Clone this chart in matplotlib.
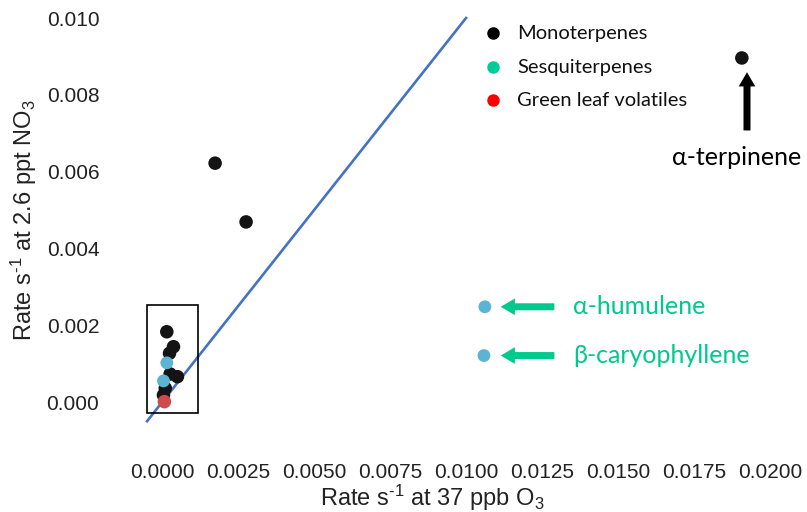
import matplotlib
matplotlib.use("Agg")
import matplotlib.pyplot as plt
from matplotlib.patches import Rectangle
import numpy as np

plt.rcParams["font.family"] = ["Liberation Sans", "DejaVu Sans"]
plt.rcParams["mathtext.default"] = "regular"

# Reaction rates (s^-1): ozone (x) versus nitrate radical (y)
mono_o3 = [0.01908, 0.00174, 0.00276, 0.00015, 0.00037, 0.00024, 0.00026, 0.00050, 0.00010, 0.00004]
mono_no3 = [0.00896, 0.00622, 0.00469, 0.00183, 0.00144, 0.00127, 0.00073, 0.00066, 0.00036, 0.00018]
sesq_o3 = [0.01062, 0.01059, 0.00015, 0.00004]
sesq_no3 = [0.00248, 0.00121, 0.00102, 0.00055]
glv_o3 = [0.00007]
glv_no3 = [0.00001]

one_to_one = [-0.0005, 0.0100]

x_ticks = [0.0, 0.0025, 0.0050, 0.0075, 0.0100, 0.0125, 0.0150, 0.0175, 0.0200]
y_ticks = [0.000, 0.002, 0.004, 0.006, 0.008, 0.010]

legend_labels = ["Monoterpenes", "Sesquiterpenes", "Green leaf volatiles"]
legend_colors = ["#000000", "#00CC99", "#FF0000"]

fig = plt.figure(figsize=(8.07, 5.12), dpi=100)
ax = fig.add_axes([0.1747, 0.1398, 0.798, 0.8475])
ax.set_xlim(-0.0007, 0.0205)
ax.set_ylim(-0.0010, 0.0103)

ax.plot(one_to_one, one_to_one, color="#4472C4", lw=1.9, zorder=1)

ax.scatter(mono_o3, mono_no3, s=95, color="#141414", edgecolors="none", zorder=3)
ax.scatter(sesq_o3, sesq_no3, s=85, color="#5BB4D3", edgecolors="none", zorder=4)
ax.scatter(glv_o3, glv_no3, s=95, color="#CF4A4A", edgecolors="none", zorder=4)

# box around the cluster near the origin
ax.add_patch(Rectangle((-0.00049, -0.000286), 0.00167, 0.00281,
                       fill=False, ec="black", lw=1.2, zorder=5))

ax.set_xticks(x_ticks)
ax.set_xticklabels([f"{v:.4f}" for v in x_ticks])
ax.set_yticks(y_ticks)
ax.set_yticklabels([f"{v:.3f}" for v in y_ticks])
ax.tick_params(axis="x", length=0, pad=16, labelsize=15, labelcolor="#222222")
ax.tick_params(axis="y", length=0, pad=30, labelsize=15, labelcolor="#222222")
for s in ax.spines.values():
    s.set_visible(False)

ax.set_xlabel("Rate s$^{\u20101}$ at 37 ppb O$_3$", fontsize=17, color="#222222")
ax.set_ylabel("Rate s$^{\u20101}$ at 2.6 ppt NO$_3$", fontsize=17, color="#222222")
ax.xaxis.set_label_coords(0.452, -0.097)
ax.yaxis.set_label_coords(-0.158, 0.508)

# legend drawn as markers and labels
leg_y = [33, 67, 100]
for lab, col, yy in zip(legend_labels, legend_colors, leg_y):
    fy = 1 - yy / 512
    fig.lines.append(plt.Line2D([493 / 807], [fy], marker="o", ms=9, color=col,
                                mec="none", transform=fig.transFigure))
    fig.text(517 / 807, fy, lab, fontsize=14.5, family=["Lato", "DejaVu Sans"],
             va="center", ha="left", color="#111111")

# callout arrows and labels
teal = "#00C98D"
arr_style = "simple,head_length=0.85,head_width=1.0,tail_width=0.42"
ax.annotate("", xy=(0.01925, 0.00866), xytext=(0.01925, 0.00700),
            arrowprops=dict(arrowstyle=arr_style, mutation_scale=12,
                            color="black", lw=0))
ax.text(0.01890, 0.00638, "α-terpinene", fontsize=18, family=["Lato", "DejaVu Sans"],
        ha="center", va="center", color="black")

for yv, lab in [(0.00248, "α-humulene"), (0.00121, "β-caryophyllene")]:
    ax.annotate("", xy=(0.01105, yv), xytext=(0.01300, yv),
                arrowprops=dict(arrowstyle=arr_style, mutation_scale=12,
                                color=teal, lw=0))
    ax.text(0.01352, yv, lab, fontsize=18, family=["Lato", "DejaVu Sans"],
            ha="left", va="center", color=teal)

fig.savefig("out.png", dpi=100)
